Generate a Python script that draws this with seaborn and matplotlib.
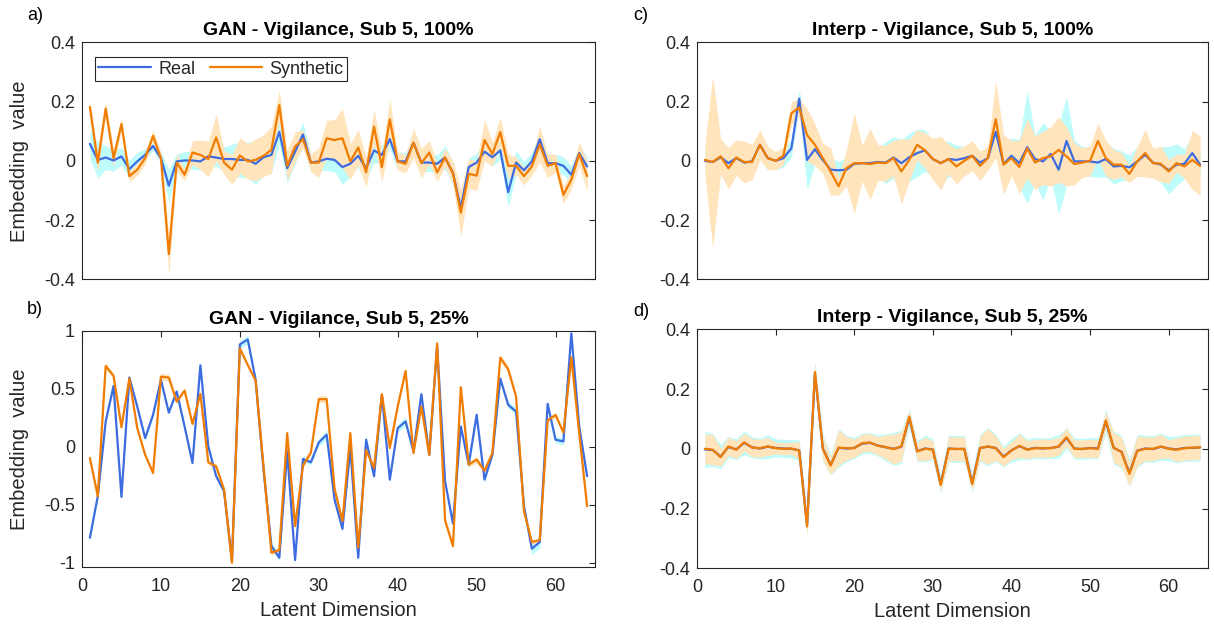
import numpy as np
import pandas as pd
import matplotlib
matplotlib.use("Agg")
import matplotlib.pyplot as plt
import seaborn as sns

# Latent dimensions 1..64
dims = np.arange(1, 65)

# a) GAN, 100 %
gan100_real = [0.057, 0.003, 0.011, 0.001, 0.015, -0.028, -0.002, 0.020, 0.050, 0.009,
               -0.084, -0.002, 0.001, 0.001, -0.002, 0.015, 0.011, 0.006, 0.006, 0.003,
               0.003, -0.010, 0.012, 0.020, 0.098, -0.025, 0.031, 0.089, -0.006, -0.002,
               0.007, 0.003, -0.021, -0.010, 0.017, -0.025, 0.035, 0.020, 0.073, -0.002,
               -0.002, 0.061, -0.006, -0.006, -0.010, 0.011, -0.041, -0.159, -0.021, -0.006,
               0.031, 0.012, 0.035, -0.106, -0.006, -0.032, -0.002, 0.073, -0.008, -0.008,
               -0.017, -0.047, 0.026, -0.019]
gan100_real_sd = [0.05, 0.06, 0.04, 0.035, 0.03, 0.03, 0.03, 0.02, 0.015, 0.02,
                  0.055, 0.025, 0.03, 0.03, 0.03, 0.04, 0.03, 0.04, 0.05, 0.06,
                  0.06, 0.07, 0.06, 0.06, 0.04, 0.05, 0.04, 0.04, 0.03, 0.03,
                  0.04, 0.04, 0.06, 0.04, 0.04, 0.04, 0.04, 0.03, 0.03, 0.03,
                  0.03, 0.03, 0.03, 0.03, 0.03, 0.04, 0.04, 0.05, 0.03, 0.03,
                  0.03, 0.03, 0.03, 0.05, 0.04, 0.03, 0.03, 0.03, 0.03, 0.03,
                  0.03, 0.03, 0.03, 0.03]
gan100_syn = [0.182, -0.006, 0.176, 0.009, 0.124, -0.052, -0.030, 0.009, 0.084, 0.009,
              -0.315, -0.006, -0.047, 0.028, 0.020, 0.006, 0.079, -0.006, -0.030, 0.018,
              -0.002, 0.003, 0.017, 0.037, 0.188, -0.017, 0.048, 0.073, -0.006, -0.006,
              0.076, 0.070, 0.076, -0.002, 0.045, -0.039, 0.115, -0.021, 0.140, -0.002,
              -0.010, 0.061, -0.008, 0.028, -0.039, 0.011, -0.041, -0.175, -0.044, -0.050,
              0.070, 0.023, 0.097, -0.017, -0.017, -0.052, -0.019, 0.056, -0.017, -0.008,
              -0.115, -0.064, 0.023, -0.052]
gan100_syn_sd = [0.025, 0.03, 0.025, 0.03, 0.02, 0.02, 0.02, 0.02, 0.02, 0.02,
                 0.07, 0.03, 0.02, 0.04, 0.05, 0.06, 0.08, 0.04, 0.05, 0.06,
                 0.06, 0.07, 0.07, 0.08, 0.05, 0.05, 0.05, 0.03, 0.03, 0.05,
                 0.06, 0.07, 0.10, 0.06, 0.06, 0.05, 0.06, 0.05, 0.07, 0.03,
                 0.03, 0.05, 0.05, 0.04, 0.03, 0.03, 0.04, 0.08, 0.05, 0.05,
                 0.07, 0.04, 0.05, 0.04, 0.03, 0.03, 0.03, 0.06, 0.04, 0.03,
                 0.03, 0.03, 0.04, 0.05]

# b) GAN, 25 %
gan25_real = [-0.783, -0.426, 0.217, 0.523, -0.432, 0.595, 0.346, 0.074, 0.274, 0.575,
              0.294, 0.475, 0.174, -0.140, 0.700, 0.003, -0.254, -0.383, -0.983, 0.880,
              0.923, 0.575, -0.200, -0.855, -0.955, -0.040, -0.975, -0.106, -0.134, 0.037,
              0.103, -0.455, -0.706, -0.011, -0.955, 0.060, -0.254, 0.446, -0.283, 0.160,
              0.217, -0.040, 0.452, -0.069, 0.866, -0.297, -0.660, 0.174, -0.154, 0.274,
              -0.283, -0.069, 0.586, 0.360, 0.303, -0.512, -0.878, -0.820, 0.369, 0.060,
              0.046, 0.975, 0.174, -0.254]
gan25_real_sd = [0.03, 0.03, 0.02, 0.02, 0.02, 0.02, 0.02, 0.03, 0.02, 0.02,
                 0.02, 0.02, 0.02, 0.02, 0.03, 0.02, 0.02, 0.03, 0.02, 0.03,
                 0.04, 0.03, 0.02, 0.03, 0.03, 0.02, 0.02, 0.03, 0.02, 0.03,
                 0.04, 0.02, 0.03, 0.02, 0.03, 0.02, 0.02, 0.02, 0.03, 0.03,
                 0.04, 0.03, 0.02, 0.02, 0.02, 0.02, 0.03, 0.02, 0.04, 0.04,
                 0.03, 0.02, 0.02, 0.03, 0.03, 0.03, 0.05, 0.05, 0.02, 0.03,
                 0.03, 0.02, 0.02, 0.03]
gan25_syn = [-0.097, -0.426, 0.695, 0.609, 0.169, 0.586, 0.160, -0.069, -0.226, 0.603,
             0.595, 0.389, 0.483, 0.197, 0.455, -0.134, -0.169, -0.369, -0.998, 0.846,
             0.703, 0.569, -0.169, -0.912, -0.889, 0.117, -0.683, -0.163, -0.049, 0.409,
             0.409, -0.363, -0.640, 0.117, -0.869, -0.031, -0.183, 0.452, -0.011, 0.346,
             0.652, -0.054, 0.346, -0.069, 0.889, -0.632, -0.855, 0.512, -0.154, -0.111,
             -0.206, -0.054, 0.766, 0.666, 0.432, -0.555, -0.820, -0.803, 0.226, 0.274,
             0.123, 0.769, 0.117, -0.512]
gan25_syn_sd = [0.02, 0.02, 0.03, 0.02, 0.02, 0.02, 0.02, 0.02, 0.02, 0.03,
                0.03, 0.02, 0.02, 0.02, 0.02, 0.02, 0.02, 0.02, 0.02, 0.02,
                0.02, 0.02, 0.02, 0.02, 0.02, 0.02, 0.02, 0.02, 0.02, 0.03,
                0.03, 0.02, 0.02, 0.02, 0.02, 0.02, 0.02, 0.02, 0.02, 0.02,
                0.02, 0.02, 0.02, 0.02, 0.02, 0.02, 0.02, 0.02, 0.02, 0.03,
                0.02, 0.02, 0.03, 0.03, 0.02, 0.02, 0.02, 0.02, 0.02, 0.02,
                0.02, 0.02, 0.02, 0.02]

# c) Interpolation, 100 %
interp100_real = [0.000, -0.004, 0.012, -0.008, 0.009, -0.006, -0.002, 0.054, 0.009, 0.000,
                  0.009, 0.042, 0.210, 0.003, 0.039, 0.003, -0.030, -0.032, -0.030, -0.010,
                  -0.008, -0.008, -0.004, -0.006, 0.011, -0.008, 0.012, 0.026, 0.035, 0.006,
                  -0.008, 0.006, 0.003, 0.009, 0.017, -0.006, 0.009, 0.098, -0.011, 0.017,
                  -0.008, 0.046, 0.006, -0.002, 0.023, -0.030, 0.067, -0.002, -0.002, -0.002,
                  -0.006, 0.006, -0.019, -0.017, -0.022, -0.002, 0.020, -0.006, -0.013, -0.032,
                  -0.013, -0.010, 0.026, -0.013]
interp100_real_sd = [0.03, 0.03, 0.05, 0.04, 0.04, 0.04, 0.05, 0.03, 0.03, 0.03,
                     0.03, 0.03, 0.03, 0.10, 0.05, 0.04, 0.04, 0.03, 0.04, 0.05,
                     0.04, 0.05, 0.05, 0.07, 0.07, 0.08, 0.08, 0.08, 0.07, 0.06,
                     0.07, 0.06, 0.05, 0.04, 0.04, 0.03, 0.04, 0.07, 0.08, 0.06,
                     0.08, 0.19, 0.08, 0.13, 0.08, 0.15, 0.15, 0.07, 0.05, 0.05,
                     0.05, 0.06, 0.06, 0.05, 0.04, 0.05, 0.06, 0.05, 0.06, 0.08,
                     0.07, 0.05, 0.06, 0.04]
interp100_syn = [0.003, -0.004, 0.015, -0.025, 0.011, -0.004, -0.004, 0.054, 0.009, 0.000,
                 0.017, 0.160, 0.180, 0.087, 0.054, 0.009, -0.036, -0.086, -0.025, -0.008,
                 -0.008, -0.011, -0.006, -0.008, 0.009, -0.036, 0.003, 0.054, 0.035, 0.006,
                 -0.008, 0.006, -0.019, 0.000, 0.017, -0.017, 0.009, 0.140, -0.013, 0.009,
                 -0.021, 0.042, -0.006, 0.009, 0.015, 0.037, 0.015, -0.011, -0.006, 0.000,
                 0.067, 0.009, -0.013, -0.013, -0.044, -0.002, 0.026, -0.008, -0.010, -0.036,
                 -0.008, -0.019, 0.003, -0.017]
interp100_syn_sd = [0.05, 0.29, 0.06, 0.07, 0.06, 0.07, 0.06, 0.05, 0.04, 0.03,
                    0.03, 0.04, 0.03, 0.09, 0.07, 0.05, 0.08, 0.03, 0.06, 0.17,
                    0.06, 0.12, 0.06, 0.06, 0.06, 0.11, 0.07, 0.05, 0.06, 0.07,
                    0.09, 0.05, 0.06, 0.05, 0.05, 0.05, 0.04, 0.13, 0.10, 0.06,
                    0.09, 0.10, 0.09, 0.09, 0.10, 0.11, 0.10, 0.07, 0.05, 0.05,
                    0.06, 0.06, 0.05, 0.04, 0.03, 0.05, 0.08, 0.05, 0.06, 0.04,
                    0.03, 0.04, 0.10, 0.10]

# d) Interpolation, 25 %
interp25_real = [-0.002, -0.004, -0.026, 0.006, -0.002, 0.020, 0.005, 0.001, 0.007, 0.003,
                 0.001, 0.000, -0.005, -0.255, 0.252, 0.002, -0.054, 0.003, 0.001, 0.003,
                 0.017, 0.020, 0.011, 0.005, 0.000, 0.007, 0.104, -0.008, 0.001, -0.002,
                 -0.118, 0.001, -0.001, 0.000, -0.115, 0.003, 0.007, 0.003, -0.026, -0.005,
                 0.009, -0.002, 0.003, 0.001, 0.003, 0.007, 0.036, 0.001, -0.001, 0.003,
                 0.001, 0.092, 0.003, -0.010, -0.081, -0.006, 0.001, -0.001, 0.007, 0.001,
                 -0.002, 0.003, 0.003, 0.005]
interp25_real_sd = [0.06, 0.055, 0.04, 0.035, 0.035, 0.04, 0.035, 0.035, 0.04, 0.03,
                    0.03, 0.03, 0.035, 0.035, 0.04, 0.045, 0.035, 0.065, 0.045, 0.035,
                    0.035, 0.035, 0.035, 0.045, 0.055, 0.055, 0.03, 0.035, 0.045, 0.035,
                    0.03, 0.045, 0.045, 0.045, 0.03, 0.045, 0.065, 0.045, 0.035, 0.04,
                    0.045, 0.035, 0.035, 0.035, 0.035, 0.04, 0.035, 0.035, 0.035, 0.035,
                    0.035, 0.04, 0.055, 0.055, 0.045, 0.055, 0.045, 0.045, 0.045, 0.04,
                    0.045, 0.045, 0.045, 0.045]
interp25_syn = [0.000, -0.003, -0.028, 0.008, -0.003, 0.022, 0.004, 0.002, 0.008, 0.002,
                0.000, 0.001, -0.006, -0.260, 0.257, 0.000, -0.056, 0.004, 0.002, 0.002,
                0.019, 0.021, 0.010, 0.006, -0.001, 0.008, 0.108, -0.009, 0.000, -0.003,
                -0.121, 0.000, 0.000, -0.001, -0.118, 0.002, 0.008, 0.002, -0.028, -0.006,
                0.010, -0.003, 0.002, 0.002, 0.002, 0.008, 0.039, 0.000, 0.000, 0.002,
                0.000, 0.095, 0.004, -0.011, -0.084, -0.007, 0.000, 0.000, 0.008, 0.000,
                -0.003, 0.002, 0.004, 0.004]
interp25_syn_sd = [0.05, 0.05, 0.03, 0.03, 0.03, 0.03, 0.03, 0.03, 0.03, 0.02,
                   0.02, 0.02, 0.03, 0.03, 0.03, 0.04, 0.03, 0.06, 0.04, 0.03,
                   0.03, 0.03, 0.03, 0.04, 0.05, 0.05, 0.02, 0.03, 0.04, 0.03,
                   0.02, 0.04, 0.04, 0.04, 0.02, 0.04, 0.06, 0.04, 0.03, 0.03,
                   0.04, 0.03, 0.03, 0.03, 0.03, 0.03, 0.03, 0.03, 0.03, 0.03,
                   0.03, 0.03, 0.05, 0.05, 0.04, 0.05, 0.04, 0.04, 0.04, 0.03,
                   0.04, 0.04, 0.04, 0.04]

series_names = ["Real", "Synthetic"]
x_ticks = [0, 10, 20, 30, 40, 50, 60]
small_ticks = [-0.4, -0.2, 0, 0.2, 0.4]
small_labels = ["-0.4", "-0.2", "0", "0.2", "0.4"]
wide_ticks = [-1, -0.5, 0, 0.5, 1]
wide_labels = ["-1", "-0.5", "0", "0.5", "1"]

sns.set_theme(style="white")
plt.rcParams["font.family"] = ["Liberation Sans", "DejaVu Sans"]
plt.rcParams["axes.edgecolor"] = "#262626"
plt.rcParams["axes.linewidth"] = 0.8

REAL_LINE = "#3D6BE0"
SYN_LINE = "#F07C00"
REAL_FILL = "#BEFBFB"
SYN_FILL = "#FFE4BC"
INK = "#262626"

W, H = 1214, 625
fig = plt.figure(figsize=(W / 100, H / 100), dpi=100)


def rect(left, top, right, bottom):
    return [left / W, 1 - bottom / H, (right - left) / W, (bottom - top) / H]


def panel(box, real, real_sd, syn, syn_sd, title, ylim, yticks, ylabels,
          show_x, show_ylabel, legend):
    ax = fig.add_axes(box)
    real = np.asarray(real)
    syn = np.asarray(syn)
    real_sd = np.asarray(real_sd)
    syn_sd = np.asarray(syn_sd)
    ax.fill_between(dims, real - real_sd, real + real_sd, color=REAL_FILL,
                    lw=0, zorder=1)
    ax.fill_between(dims, syn - syn_sd, syn + syn_sd, color=SYN_FILL,
                    lw=0, zorder=2)
    df = pd.DataFrame({
        "dim": np.concatenate([dims, dims]),
        "value": np.concatenate([real, syn]),
        "kind": [series_names[0]] * len(dims) + [series_names[1]] * len(dims),
    })
    sns.lineplot(data=df, x="dim", y="value", hue="kind",
                 palette={"Real": REAL_LINE, "Synthetic": SYN_LINE},
                 linewidth=1.6, errorbar=None, ax=ax, zorder=3, legend=legend)
    ax.set_xlim(0, 65)
    ax.set_ylim(*ylim)
    ax.set_yticks(yticks)
    ax.set_yticklabels(ylabels)
    ax.tick_params(direction="in", length=4, width=0.8, top=True, right=True,
                   colors=INK, labelcolor=INK, labelsize=13, pad=5)
    ax.tick_params(axis="x", pad=8)
    if show_x:
        ax.set_xticks(x_ticks)
        ax.set_xticklabels([str(t) for t in x_ticks])
        ax.set_xlabel("Latent Dimension", fontsize=14.5, color=INK, labelpad=4)
    else:
        ax.set_xticks([])
        ax.set_xlabel("")
    if show_ylabel:
        ax.set_ylabel("Embedding  value", fontsize=14.5, color=INK)
        ax.yaxis.set_label_coords(-0.103, 0.5)
    else:
        ax.set_ylabel("")
    ax.set_title(title, fontsize=14, fontweight="bold", color="black", pad=5)
    for s in ax.spines.values():
        s.set_visible(True)
        s.set_color(INK)
        s.set_linewidth(0.8)
    if legend:
        handles, labels = ax.get_legend_handles_labels()
        leg = ax.legend(handles, labels, loc="upper left",
                        bbox_to_anchor=(0.025, 0.938), ncol=2, frameon=True,
                        fancybox=False, edgecolor=INK, handlelength=2.9,
                        columnspacing=0.8, handletextpad=0.4,
                        borderaxespad=0, fontsize=13, borderpad=0.2)
        leg.get_frame().set_linewidth(0.8)
        leg.get_frame().set_alpha(1)
    return ax


panel(rect(82, 42.3, 595, 279.3), gan100_real, gan100_real_sd, gan100_syn,
      gan100_syn_sd, "GAN - Vigilance, Sub 5, 100%", (-0.4, 0.4), small_ticks,
      small_labels, False, True, "auto")
panel(rect(82, 330.5, 595, 567), gan25_real, gan25_real_sd, gan25_syn,
      gan25_syn_sd, "GAN - Vigilance, Sub 5, 25%", (-1.035, 1.0), wide_ticks,
      wide_labels, True, True, False)
panel(rect(697, 42.3, 1208, 279.3), interp100_real, interp100_real_sd,
      interp100_syn, interp100_syn_sd, "Interp - Vigilance, Sub 5, 100%",
      (-0.4, 0.4), small_ticks, small_labels, False, False, False)
panel(rect(697, 329.3, 1208, 568.3), interp25_real, interp25_real_sd,
      interp25_syn, interp25_syn_sd, "Interp - Vigilance, Sub 5, 25%",
      (-0.4, 0.4), small_ticks, small_labels, True, False, False)

for txt, px, py in [("a)", 27, 16), ("b)", 27, 310), ("c)", 633, 16), ("d)", 633, 312)]:
    fig.text(px / W, 1 - py / H, txt, fontsize=13, color="black",
             ha="left", va="center")

fig.savefig("out.png", dpi=100)
